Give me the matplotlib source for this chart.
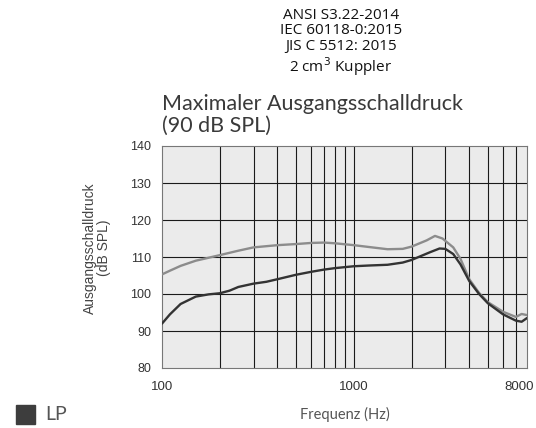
import matplotlib.pyplot as plt
import matplotlib.transforms as mtransforms
from matplotlib.patches import Rectangle
from matplotlib.ticker import FixedLocator, NullFormatter, NullLocator

# frequency response data
freq_dark = [100, 110, 125, 150, 175, 200, 225, 250, 300, 350, 400, 500, 600, 700, 800, 1000,
             1200, 1500, 1800, 2000, 2500, 2800, 3000, 3300, 3600, 4000, 4500, 5000, 6000,
             7000, 7500, 8000]
lp_dark = [92.0, 94.5, 97.3, 99.3, 99.9, 100.2, 100.9, 101.9, 102.8, 103.3, 104.0, 105.2, 106.0,
           106.6, 107.0, 107.5, 107.7, 107.9, 108.5, 109.2, 111.3, 112.3, 112.2, 110.8, 108.0,
           103.5, 100.0, 97.5, 94.5, 92.8, 92.5, 93.5]
freq_light = [100, 110, 125, 150, 175, 200, 250, 300, 400, 500, 600, 700, 800, 1000, 1200,
              1500, 1800, 2000, 2400, 2650, 2900, 3300, 3600, 4000, 4500, 5000, 6000, 7000,
              7500, 8000]
lp_light = [105.3, 106.3, 107.6, 109.0, 109.8, 110.5, 111.7, 112.6, 113.2, 113.5, 113.8, 113.9,
            113.7, 113.2, 112.7, 112.1, 112.2, 112.8, 114.5, 115.7, 115.0, 112.6, 109.5, 104.0,
            100.3, 97.8, 95.2, 93.8, 94.6, 94.3]

header = ['ANSI S3.22-2014', 'IEC 60118-0:2015', 'JIS C 5512: 2015', '2 cm$^3$ Kuppler']
title = 'Maximaler Ausgangsschalldruck\n(90 dB SPL)'
xticks = [100, 1000, 8000]
grid_x = [200, 300, 400, 500, 600, 700, 800, 900, 1000, 2000, 3000, 4000, 5000, 6000, 7000]
yticks = [80, 90, 100, 110, 120, 130, 140]

W, H = 536, 428
fig = plt.figure(figsize=(W / 100, H / 100), dpi=100)
ax = fig.add_axes([162 / W, 1 - 368 / H, 365 / W, 222 / H])

ax.set_facecolor('#ebebeb')
ax.set_xscale('log')
ax.set_xlim(100, 8000)
ax.set_ylim(80, 140)

ax.plot(freq_light, lp_light, color='#8c8c8c', lw=1.7, zorder=3, solid_capstyle='round')
ax.plot(freq_dark, lp_dark, color='#333333', lw=1.7, zorder=4, solid_capstyle='round')

for f in grid_x:
    ax.axvline(f, color='#1a1a1a', lw=0.8, zorder=2)
for v in yticks[1:-1]:
    ax.axhline(v, color='#1a1a1a', lw=0.8, zorder=2)

ax.xaxis.set_major_locator(FixedLocator(xticks))
ax.xaxis.set_minor_locator(NullLocator())
ax.xaxis.set_minor_formatter(NullFormatter())
ax.set_xticks(xticks)
ax.set_xticklabels([str(t) for t in xticks], fontsize=9.5, family='Liberation Sans',
                   color='#333333')
ax.set_yticks(yticks)
ax.set_yticklabels([str(t) for t in yticks], fontsize=9, family='Liberation Sans', color='#333333')
ax.tick_params(length=0)
ax.tick_params(axis='x', pad=9)
ax.tick_params(axis='y', pad=8)
# last label sits against the right edge of the figure
last = ax.get_xticklabels()[-1]
last.set_horizontalalignment('right')
last.set_transform(last.get_transform() +
                   mtransforms.ScaledTranslation(7 / 100, 0, fig.dpi_scale_trans))
for s in ax.spines.values():
    s.set_color('#777777')
    s.set_linewidth(0.8)

fig.text(97 / W, 1 - 248 / H, 'Ausgangsschalldruck\n(dB SPL)', rotation=90,
         ha='center', va='center', fontsize=10, family='Liberation Sans',
         color='#444444', linespacing=1.05)

fig.text(341 / W, 1 - 43 / H, '\n'.join(header), ha='center', va='center',
         fontsize=11, family='Open Sans', fontweight='medium', color='#111111',
         linespacing=1.08)
fig.text(162 / W, 1 - 115 / H, title, ha='left', va='center',
         fontsize=15.5, family='Lato', color='#3a3a3a', linespacing=1.08)

fig.text(345 / W, 1 - 414 / H, 'Frequenz (Hz)', ha='center', va='center',
         fontsize=10.5, family='Lato', color='#555555')
fig.patches.append(Rectangle((16 / W, 1 - 424 / H), 19 / W, 19 / H,
                             transform=fig.transFigure, color='#3d3d3d'))
fig.text(45 / W, 1 - 415 / H, 'LP', ha='left', va='center',
         fontsize=14, family='Lato', color='#555555')

fig.savefig('out.png', dpi=100)
